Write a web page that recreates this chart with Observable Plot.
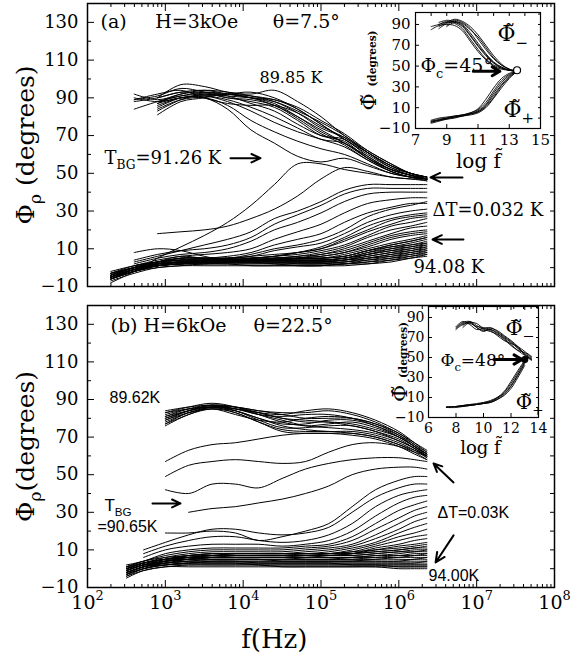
<!DOCTYPE html>
<html><head><meta charset="utf-8">
<script src="https://cdn.jsdelivr.net/npm/d3@7"></script>
<script src="https://cdn.jsdelivr.net/npm/@observablehq/plot@0.6"></script>
<style>
body{margin:0;background:#fff;}
#fig{position:relative;width:578px;height:655px;overflow:hidden;background:#fff;}
#fig svg{position:absolute;overflow:visible;}
</style></head><body><div id="fig"></div>
<script>
// ---------- tick labels ----------
const yTickValues = [-10, 10, 30, 50, 70, 90, 110, 130];
const xTickExponents = [2, 3, 4, 5, 6, 7, 8];
const insetYTicks = [-10, 10, 30, 50, 70, 90];
const insetATicksX = [7, 9, 11, 13, 15];
const insetBTicksX = [6, 8, 10, 12, 14];

// ---------- panel (a): log10 f grid and phase values (degrees) ----------
const logFreqA = [2.3, 2.6, 2.9, 3.2, 3.5, 3.8, 4.1, 4.4, 4.7, 5.0, 5.3, 5.6, 5.9, 6.15, 6.36];
const panelA_low = [ // low-T bundle (89.85 K ...)
  [null, 88, 90, 93, 92, 91, 90, 89, 84, 76, 68, 60, 53, 50, 48],
  [null, 92, 89, 92, 94, 93, 91, 88, 82, 74, 69, 61, 54, 50, 47],
  [null, 84, 88, 91, 93, 92, 90, 86, 80, 72, 66, 59, 52, 49, 47],
  [null, null, 83, 89, 92, 90, 88, 85, 78, 70, 67, 58, 52, 49, 47],
  [null, null, 86, 90, 91, 92, 93, 90, 84, 76, 68, 61, 54, 50, 48],
  [null, null, 81, 88, 90, 92, 90, 87, 80, 73, 66, 58, 52, 49, 47],
  [null, null, 90, 97, 96, 93, 92, 94, 88, 80, 70, 62, 55, 50, 48],
  [null, 89, 91, 95, 93, 90, 89, 86, 79, 71, 65, 57, 51, 48, 47],
  [null, null, 87, 92, 93, 91, 87, 83, 76, 70, 68, 59, 52, 49, 47],
  [null, null, 85, 90, 91, 89, 85, 80, 74, 68, 66, 58, 51, 48, 46],
  [null, null, 88, 91, 92, 92, 91, 89, 85, 78, 71, 62, 55, 50, 48],
  [null, 90, 88, 90, 91, 88, 83, 77, 72, 68, 64, 57, 51, 48, 47],
  [null, null, 84, 89, 90, 86, 78, 72, 67, 63, 60, 55, 50, 48, 47],
  [null, null, 87, 90, 90, 84, 73, 66, 59, 56, 58, 54, 50, 48, 47],
  [null, 89, 92, 94, 90, 87, 86, 86, 82, 75, 69, 61, 54, 50, 48],
  [null, null, 90, 93, 94, 92, 90, 88, 83, 77, 70, 61, 53, 49, 47]
];
const panelA_mid = [ // curves fanning out above T_BG
  [-8, -2, 5, 11, 17, 24, 33, 44, 55, 55, 52, 50, 48, 47, 47],
  [null, null, 18, 19, 20, 22, 26, 31, 38, 47, 53, 51, 48, 47, 46],
  [null, 3, 6, 9, 12, 15, 19, 26, 30, 35, 41, 44, 44, 44, 44],
  [null, 2, 5, 7, 8, 10, 14, 20, 24, 29, 35, 39, 40, 40, 40],
  [null, 1, 4, 6, 7, 8, 10, 15, 19, 23, 29, 34, 36, 37, 37],
  [null, 0, 3, 5, 5, 6, 8, 12, 15, 18, 24, 29, 32, 34, 34],
  [null, 0, 3, 4, 5, 5, 6, 9, 11, 13, 18, 24, 28, 30, 31],
  [-6, -1, 3, 6, 5, 5, 6, 7, 8, 10, 15, 20, 25, 27, 28],
  [-5, 0, 3, 5, 5, 4, 5, 6, 7, 9, 12, 17, 22, 24, 26],
  [-5, -1, 2, 4, 4, 4, 4, 5, 6, 8, 11, 16, 20, 22, 24],
  [-4, 0, 3, 4, 4, 4, 4, 5, 6, 7, 10, 14, 18, 21, 22],
  [-6, -2, 1, 3, 3, 3, 4, 4, 5, 7, 9, 13, 17, 19, 20],
  [-5, -1, 2, 3, 3, 3, 4, 4, 5, 6, 8, 12, 16, 18, 19],
  [-5, -2, 1, 2, 3, 3, 3, 4, 5, 6, 8, 11, 15, 17, 18],
  [null, 8, 10, 9, 6, 4, 5, 6, 8, 10, 14, 19, 23, 26, 27],
  [null, 4, 7, 9, 10, 12, 16, 23, 28, 33, 39, 42, 42, 42, 42],
  [null, 1, 3, 5, 5, 5, 7, 10, 12, 15, 20, 27, 31, 33, 35],
  [-6, -2, 2, 5, 5, 5, 5, 6, 8, 11, 16, 22, 26, 28, 29]
];
const panelA_high = [ // high-T bundle (... 94.08 K)
  [-7, -3, 0, 1, 1, 1, 1, 1, 1, 1, 1, 2, 3, 5, 6],
  [-6, -2, 0, 1, 2, 2, 1, 1, 1, 1, 2, 2, 4, 5, 7],
  [-6, -2, 1, 2, 2, 2, 2, 2, 1, 1, 2, 3, 4, 6, 7],
  [-5, -1, 1, 2, 2, 2, 2, 2, 2, 2, 2, 3, 5, 6, 8],
  [-5, -1, 1, 2, 3, 3, 3, 2, 2, 2, 2, 4, 5, 7, 8],
  [-4, -1, 2, 3, 3, 3, 3, 3, 2, 2, 3, 4, 6, 7, 9],
  [-4, 0, 2, 3, 3, 3, 3, 3, 3, 3, 3, 5, 6, 8, 9],
  [-3, 0, 2, 3, 3, 4, 4, 3, 3, 3, 3, 5, 7, 8, 10],
  [-5, -1, 1, 2, 3, 3, 3, 3, 3, 3, 4, 5, 7, 9, 10],
  [-6, -2, 1, 2, 2, 3, 3, 3, 3, 3, 4, 6, 8, 9, 11],
  [-4, 0, 2, 3, 3, 3, 4, 4, 3, 3, 4, 6, 8, 10, 11],
  [-3, 0, 2, 3, 4, 4, 4, 4, 4, 4, 4, 7, 9, 10, 12],
  [-5, -1, 1, 2, 3, 3, 4, 4, 4, 4, 5, 7, 9, 11, 12],
  [-4, 0, 2, 3, 3, 4, 4, 4, 4, 4, 5, 7, 10, 11, 13],
  [-3, 0, 2, 3, 4, 4, 4, 4, 4, 4, 5, 8, 10, 12, 13],
  [-5, -1, 1, 3, 3, 4, 4, 4, 4, 4, 5, 8, 11, 12, 14],
  [-4, 0, 2, 3, 4, 4, 4, 5, 5, 5, 6, 9, 11, 13, 15],
  [-3, 1, 3, 4, 4, 4, 5, 5, 5, 5, 6, 9, 12, 14, 16],
  [-2, 1, 3, 4, 4, 5, 5, 5, 5, 5, 6, 9, 12, 14, 16],
  [-6, -2, 1, 2, 3, 4, 4, 4, 5, 5, 7, 10, 13, 15, 17]
];

// ---------- panel (b) ----------
const logFreqB = [2.5, 2.72, 3.0, 3.3, 3.6, 3.9, 4.2, 4.5, 4.8, 5.1, 5.4, 5.7, 6.0, 6.2, 6.36];
const panelB_low = [ // 89.62 K ...
  [null, null, 77, 82, 86, 85, 82, 79, 76, 75, 74, 72, 68, 64, 60],
  [null, null, 79, 84, 87, 86, 83, 80, 78, 78, 77, 74, 70, 65, 61],
  [null, null, 81, 85, 87, 84, 80, 76, 74, 73, 73, 71, 67, 63, 59],
  [null, null, 83, 85, 86, 83, 78, 74, 73, 73, 72, 70, 66, 62, 58],
  [null, null, 84, 86, 87, 85, 82, 81, 82, 82, 80, 76, 71, 66, 62],
  [null, null, 78, 83, 86, 86, 84, 83, 83, 84, 82, 78, 72, 67, 63],
  [null, null, 76, 82, 85, 84, 80, 77, 77, 79, 79, 76, 70, 65, 61],
  [null, null, 80, 84, 86, 85, 83, 82, 84, 85, 83, 79, 73, 67, 62],
  [null, null, 82, 85, 86, 84, 79, 75, 75, 76, 76, 73, 69, 64, 60],
  [null, null, 80, 84, 87, 86, 84, 82, 80, 80, 80, 77, 72, 66, 61],
  [null, null, 77, 83, 85, 83, 78, 73, 72, 72, 71, 69, 65, 61, 58],
  [null, null, 83, 86, 88, 86, 82, 78, 76, 77, 78, 75, 70, 65, 60],
  [null, null, 79, 83, 85, 82, 79, 78, 80, 81, 80, 77, 71, 65, 61],
  [null, null, 81, 84, 86, 85, 83, 80, 79, 78, 76, 73, 68, 64, 59]
];
const panelB_mid = [
  [null, null, 57, 63, 66, 67, 69, 71, 72, 72, 72, 70, 66, 63, 60],
  [null, null, 49, 55, 57, 58, 57, 56, 57, 62, 66, 67, 65, 62, 60],
  [null, null, 42, 40, 45, 45, 43, 48, 53, 56, 58, 59, 59, 58, 57],
  [null, null, null, 30, 32, 33, 35, 37, 40, 44, 50, 53, 54, 54, 53],
  [null, null, 19, 19, 20, 19, 15, 17, 20, 24, 33, 42, 47, 49, 49],
  [null, 10, 14, 18, 21, 21, 19, 18, 19, 22, 30, 38, 43, 45, 45],
  [null, 8, 12, 15, 17, 17, 15, 14, 15, 18, 24, 33, 39, 41, 42],
  [null, 6, 10, 12, 13, 13, 13, 12, 13, 15, 20, 28, 35, 38, 39],
  [2, 4, 8, 10, 11, 11, 11, 11, 12, 13, 17, 24, 31, 34, 36],
  [1, 4, 7, 9, 10, 10, 10, 10, 11, 12, 15, 21, 27, 31, 33],
  [0, 3, 6, 8, 9, 9, 9, 9, 10, 11, 13, 18, 24, 28, 30],
  [0, 3, 5, 7, 8, 8, 8, 8, 9, 10, 12, 16, 21, 25, 27],
  [-1, 2, 5, 7, 7, 8, 8, 8, 8, 9, 11, 14, 19, 22, 24],
  [-1, 2, 4, 6, 7, 7, 7, 7, 8, 8, 10, 13, 17, 19, 21],
  [-2, 1, 4, 6, 6, 7, 7, 7, 7, 8, 9, 12, 15, 17, 18],
  [-2, 1, 4, 5, 6, 6, 6, 6, 7, 7, 8, 11, 13, 15, 16],
  [-3, 0, 3, 5, 6, 6, 6, 6, 6, 7, 8, 10, 12, 13, 14]
];
const panelB_high = [ // ... 94.00 K
  [-5, -1, 1, 1, 1, 1, 1, 1, 1, 1, 1, 1, 0, 0, 0],
  [-4, -1, 1, 2, 2, 2, 2, 1, 1, 1, 1, 1, 1, 1, 1],
  [-4, 0, 2, 2, 2, 2, 2, 2, 2, 2, 2, 2, 1, 1, 1],
  [-3, 0, 2, 3, 3, 3, 2, 2, 2, 2, 2, 2, 2, 2, 2],
  [-3, 0, 2, 3, 3, 3, 3, 3, 3, 3, 2, 2, 2, 2, 2],
  [-3, 1, 2, 3, 3, 3, 3, 3, 3, 3, 3, 3, 3, 3, 3],
  [-2, 1, 3, 3, 4, 4, 3, 3, 3, 3, 3, 3, 3, 3, 4],
  [-2, 1, 3, 4, 4, 4, 4, 4, 4, 4, 4, 4, 4, 4, 4],
  [-2, 1, 3, 4, 4, 4, 4, 4, 4, 4, 4, 4, 4, 5, 5],
  [-1, 2, 3, 4, 5, 5, 5, 4, 4, 4, 4, 5, 5, 5, 6],
  [-1, 2, 4, 5, 5, 5, 5, 5, 5, 5, 5, 5, 6, 6, 6],
  [-1, 2, 4, 5, 5, 5, 5, 5, 5, 5, 5, 6, 6, 7, 7],
  [-1, 2, 4, 5, 6, 6, 6, 6, 5, 5, 6, 6, 7, 7, 8],
  [0, 2, 4, 5, 6, 6, 6, 6, 6, 6, 6, 7, 7, 8, 8],
  [0, 3, 5, 6, 6, 6, 6, 6, 6, 6, 6, 7, 8, 9, 9],
  [0, 3, 5, 6, 7, 7, 7, 7, 7, 7, 7, 8, 9, 9, 10],
  [0, 3, 5, 6, 7, 7, 7, 7, 7, 7, 7, 8, 9, 10, 10],
  [1, 3, 5, 6, 7, 8, 8, 8, 8, 8, 8, 9, 10, 11, 11],
  [1, 3, 5, 7, 8, 8, 8, 8, 8, 8, 8, 9, 10, 11, 12],
  [1, 4, 6, 7, 8, 8, 8, 8, 8, 8, 9, 10, 11, 12, 13]
];

// ---------- insets: scaled log f~ grid and phases ----------
const insetA_logf = [8.0, 8.5, 9.0, 9.5, 10.0, 10.5, 11.0, 11.5, 12.0, 12.5, 13.0, 13.5];
const insetA_minus = [
  [88, 90, 92, 91, 86, 76, 66, 57, 51, 48, 46, 45],
  [null, 86, 91, 93, 90, 82, 72, 62, 54, 49, 46, 45],
  [null, 90, 93, 92, 88, 79, 69, 60, 53, 49, 46, 45],
  [null, null, 89, 94, 92, 86, 76, 66, 57, 51, 47, 45],
  [85, 89, 90, 89, 84, 74, 64, 56, 50, 47, 46, 45],
  [null, 92, 94, 93, 91, 85, 78, 68, 58, 51, 47, 45],
  [null, null, 88, 92, 89, 80, 70, 61, 53, 48, 46, 45],
  [null, 88, 92, 95, 93, 88, 80, 70, 60, 52, 47, 45]
];
const insetA_plus = [
  [-4, -2, -1, 0, 2, 4, 6, 12, 22, 32, 40, 45],
  [-3, -1, 0, 1, 3, 5, 8, 15, 26, 36, 42, 45],
  [-5, -3, -1, 1, 2, 3, 5, 10, 19, 29, 38, 45],
  [-2, 0, 1, 2, 3, 5, 9, 18, 29, 38, 43, 45],
  [-4, -2, 0, 1, 2, 4, 7, 13, 24, 34, 41, 45],
  [-3, -2, 0, 2, 3, 4, 6, 11, 20, 31, 39, 45]
];
const insetB_logf = [7.3, 8.0, 8.5, 9.0, 9.5, 10.0, 10.5, 11.0, 11.5, 12.0, 12.5, 13.0, 13.5];
const insetB_minus = [
  [null, 79, 84, 85, 80, 77, 78, 75, 70, 65, 59, 54, 49],
  [null, 81, 86, 83, 78, 79, 80, 76, 71, 66, 60, 53, 48],
  [null, null, 82, 86, 82, 78, 76, 73, 69, 63, 57, 52, 47],
  [null, 78, 83, 84, 81, 80, 78, 74, 68, 62, 57, 55, 50],
  [null, null, 80, 85, 84, 79, 77, 72, 67, 64, 61, 56, 51],
  [null, 80, 85, 86, 80, 76, 79, 77, 72, 67, 61, 53, 48]
];
const insetB_plus = [
  [0, 1, 1, 2, 3, 4, 5, 8, 13, 21, 32, 44, null],
  [0, 1, 2, 2, 3, 4, 6, 9, 15, 24, 35, 46, null],
  [1, 1, 2, 3, 3, 5, 6, 10, 16, 26, 37, 47, null],
  [0, 0, 1, 2, 3, 4, 5, 8, 12, 19, 30, 42, null],
  [null, 1, 2, 3, 4, 5, 7, 10, 14, 22, 33, 45, null]
];

// ---------- annotations (log10 f, degrees) ----------
const titleA = [{lf: 2.167, d: 127, t: "(a)"}, {lf: 2.87, d: 127, t: "H=3kOe"}, {lf: 4.38, d: 127, t: "θ=7.5°"}];
const notesA = [
  {lf: 4.21, d: 98, t: "89.85 K", s: 16},
  {lf: 2.218, d: 55, t: "T_{BG}=91.26 K", s: 18},
  {lf: 6.433, d: 27.6, t: "ΔT=0.032 K", s: 18},
  {lf: 6.19, d: -2.6, t: "94.08 K", s: 18}
];
const arrowsA = [
  {lf1: 3.837, d1: 58, lf2: 4.223, d2: 58},
  {lf1: 6.818, d1: 47.8, lf2: 6.407, d2: 47.8},
  {lf1: 6.83, d1: 14.9, lf2: 6.433, d2: 14.9}
];
const titleB = [{lf: 2.296, d: 126, t: "(b)"}, {lf: 2.72, d: 126, t: "H=6kOe"}, {lf: 4.133, d: 126, t: "θ=22.5°"}];
const notesB = [
  {lf: 2.283, d: 87.9, t: "89.62K", s: 16},
  {lf: 2.218, d: 30.5, t: "T_{BG}", s: 17},
  {lf: 2.128, d: 19.3, t: "=90.65K", s: 16},
  {lf: 6.497, d: 27.2, t: "ΔT=0.03K", s: 16},
  {lf: 6.381, d: -6.3, t: "94.00K", s: 16}
];
const arrowsB = [
  {lf1: 2.835, d1: 34.7, lf2: 3.195, d2: 34.7},
  {lf1: 6.703, d1: 45.9, lf2: 6.446, d2: 56},
  {lf1: 6.703, d1: 17.7, lf2: 6.472, d2: 3.3}
];
const insetA_notes = [
  {x: 12.25, d: 74, t: "Φ\u0303_{−}", s: 22},
  {x: 12.63, d: 1.2, t: "Φ\u0303_{+}", s: 22},
  {x: 7.32, d: 44, t: "Φ_{c}=45°", s: 19}
];
const insetA_arrow = [{x1: 10.7, x2: 12.4, d: 45}];
const insetB_notes = [
  {x: 11.6, d: 73, t: "Φ\u0303_{−}", s: 21},
  {x: 12.35, d: -1, t: "Φ\u0303_{+}", s: 20},
  {x: 6.87, d: 42, t: "Φ_{c}=48°", s: 17}
];
const insetB_arrow = [{x1: 10.8, x2: 12.8, d: 48}];

// ---------- helpers ----------
const fmtDeg = d => d < 0 ? "\u2212" + Math.abs(d) : String(d);
const blank = () => "";
function toRows(grid, curves, key, conv) {
  const rows = [];
  curves.forEach((c, j) => c.forEach((v, i) => { if (v != null) rows.push({x: conv(grid[i]), v, id: key + j}); }));
  return rows;
}
const pow10 = l => 10 ** l;
const ident = l => l;

function mainPanel(o) {
  const decades = xTickExponents.map(pow10);
  const minor = [];
  for (let e = 2; e < 8; e++) for (let m = 2; m < 10; m++) minor.push(m * 10 ** e);
  const yMinor = d3.range(0, 140, 20);
  const yAll = d3.range(-10, 141, 10);
  const marks = [
    Plot.line(o.rows, {x: "x", y: "v", z: "id", curve: "catmull-rom", stroke: "black", strokeWidth: 1}),
    Plot.frame({stroke: "black", strokeWidth: 1.5}),
    Plot.axisY(yTickValues, {anchor: "left", tickSize: -7, tickPadding: 16, tickFormat: fmtDeg, fontSize: 18, label: null}),
    Plot.axisY(yMinor, {anchor: "left", tickSize: -4, tickFormat: blank, label: null}),
    Plot.axisY(yAll, {anchor: "right", tickSize: -5, tickFormat: blank, label: null}),
    Plot.axisX(decades, {anchor: "bottom", tickSize: -7, tickPadding: 15, fontSize: 19, label: null,
      tickFormat: o.xLabels ? (d => "10^{" + Math.round(Math.log10(d)) + "}") : blank}),
    Plot.axisX(minor, {anchor: "bottom", tickSize: -3, tickFormat: blank, label: null}),
    Plot.axisX(decades, {anchor: "top", tickSize: -7, tickFormat: blank, label: null}),
    Plot.axisX(minor, {anchor: "top", tickSize: -3, tickFormat: blank, label: null}),
    Plot.text(o.title, {x: d => pow10(d.lf), y: "d", text: "t", textAnchor: "start", lineAnchor: "bottom", fontSize: 19, fontFamily: "DejaVu Serif"}),
    Plot.text(o.notes, {x: d => pow10(d.lf), y: "d", text: "t", textAnchor: "start", lineAnchor: "bottom", fontSize: "s", fontFamily: o.noteFont}),
    Plot.arrow(o.arrows, {x1: d => pow10(d.lf1), y1: "d1", x2: d => pow10(d.lf2), y2: "d2", stroke: "black", strokeWidth: 2, headLength: 8, headAngle: 50}),
    Plot.text([o.yLabel], {text: d => d, frameAnchor: "left", dx: -62, rotate: -90, textAnchor: "middle", lineAnchor: "middle", fontSize: 25, fontFamily: "DejaVu Serif"})
  ];
  if (o.xLabels) marks.push(Plot.text(["f(Hz)"], {text: d => d, x: pow10(4.4), frameAnchor: "bottom", dy: 60, textAnchor: "middle", lineAnchor: "bottom", fontSize: 26, fontFamily: "DejaVu Serif"}));
  return Plot.plot({
    width: 578, height: o.height, marginLeft: 87, marginRight: 24, marginTop: o.mt, marginBottom: o.mb,
    x: {type: "log", domain: [1e2, 1e8], label: null},
    y: {domain: [-10, 140], label: null},
    style: {fontFamily: "DejaVu Serif", color: "black", background: "none", overflow: "visible"},
    marks
  });
}

function insetPanel(o) {
  const yAll = d3.range(-10, o.yDomain[1], 10);
  const xAll = d3.range(o.xDomain[0], o.xDomain[1] + 0.01, 1);
  return Plot.plot({
    width: o.w, height: o.h, marginLeft: o.ml, marginRight: o.mr, marginTop: o.mt, marginBottom: o.mb,
    x: {domain: o.xDomain, label: null}, y: {domain: o.yDomain, label: null},
    style: {fontFamily: "DejaVu Serif", color: "black", background: "none", overflow: "visible"},
    marks: [
      Plot.line(o.rows, {x: "x", y: "v", z: "id", curve: "catmull-rom", stroke: "black", strokeWidth: 0.9}),
      Plot.frame({stroke: "black", strokeWidth: 1.2}),
      Plot.axisY(insetYTicks, {anchor: "left", tickSize: -4, tickPadding: o.yPad, tickFormat: fmtDeg, fontSize: o.tf, label: null}),
      Plot.axisY(yAll, {anchor: "right", tickSize: -3, tickFormat: blank, label: null}),
      Plot.axisX(o.xTicks, {anchor: "bottom", tickSize: -4, tickPadding: o.xPad, fontSize: o.tf, label: null}),
      Plot.axisX(xAll, {anchor: "top", tickSize: -3, tickFormat: blank, label: null}),
      Plot.text(o.notes, {x: "x", y: "d", text: "t", textAnchor: "start", lineAnchor: "bottom", fontSize: "s", fontFamily: "DejaVu Serif"}),
      Plot.arrow(o.arrow, {x1: "x1", y1: "d", x2: "x2", y2: "d", stroke: "black", strokeWidth: 3, headLength: 7, headAngle: 60}),
      Plot.dot(o.dot, {x: "x", y: "d", r: o.dotR, stroke: "black", fill: o.dotFill, strokeWidth: 1.2}),
      Plot.text(["Φ\u0303 #{(degrees)}"], {text: d => d, frameAnchor: "left", dx: o.ylDx, rotate: -90, textAnchor: "middle", lineAnchor: "middle", fontSize: 21, fontFamily: "DejaVu Serif"}),
      Plot.text(["log f\u0303"], {text: d => d, x: o.logX, frameAnchor: "bottom", dy: o.logDy, textAnchor: "middle", lineAnchor: "bottom", fontSize: o.lf, fontFamily: "DejaVu Serif"})
    ]
  });
}

function richify(root) {
  root.querySelectorAll("text").forEach(t => {
    const s = t.textContent;
    if (!/[_^#]\{/.test(s)) return;
    const fs = parseFloat(getComputedStyle(t).fontSize) || 16;
    const parts = []; const re = /([_^#])\{([^}]*)\}/g; let last = 0, m;
    while ((m = re.exec(s))) {
      if (m.index > last) parts.push({k: "n", s: s.slice(last, m.index)});
      parts.push({k: m[1], s: m[2]}); last = re.lastIndex;
    }
    if (last < s.length) parts.push({k: "n", s: s.slice(last)});
    while (t.firstChild) t.removeChild(t.firstChild);
    let shift = 0;
    for (const p of parts) {
      const ts = document.createElementNS("http://www.w3.org/2000/svg", "tspan");
      const target = p.k === "_" ? 0.3 * fs : p.k === "^" ? -0.45 * fs : 0;
      ts.setAttribute("dy", target - shift); shift = target;
      if (p.k !== "n") ts.setAttribute("font-size", (p.k === "#" ? 0.5 : 0.68) * fs);
      if (p.k === "#") ts.setAttribute("font-weight", "bold");
      ts.textContent = p.s;
      t.appendChild(ts);
    }
  });
}

// ---------- build ----------
const fig = document.getElementById("fig");
function place(svg, left, top) { svg.style.left = left + "px"; svg.style.top = top + "px"; fig.appendChild(svg); richify(svg); }

const rowsA = [...toRows(logFreqA, panelA_low, "l", pow10), ...toRows(logFreqA, panelA_mid, "m", pow10), ...toRows(logFreqA, panelA_high, "h", pow10)];
const rowsB = [...toRows(logFreqB, panelB_low, "l", pow10), ...toRows(logFreqB, panelB_mid, "m", pow10), ...toRows(logFreqB, panelB_high, "h", pow10)];

place(mainPanel({rows: rowsA, height: 300, mt: 3, mb: 14, title: titleA, notes: notesA, arrows: arrowsA,
  noteFont: "DejaVu Serif", yLabel: "Φ_{ρ} (degrees)", xLabels: false}), 0, 0);
place(mainPanel({rows: rowsB, height: 355, mt: 5, mb: 68, title: titleB, notes: notesB, arrows: arrowsB,
  noteFont: "Liberation Sans", yLabel: "Φ_{ρ}(degrees)", xLabels: true}), 0, 300);

const rowsIA = [...toRows(insetA_logf, insetA_minus, "m", ident), ...toRows(insetA_logf, insetA_plus, "p", ident)];
const rowsIB = [...toRows(insetB_logf, insetB_minus, "m", ident), ...toRows(insetB_logf, insetB_plus, "p", ident)];

place(insetPanel({rows: rowsIA, w: 200, h: 175, ml: 65, mr: 10, mt: 10, mb: 49, xDomain: [7, 15], yDomain: [-10, 101.5],
  xTicks: insetATicksX, yPad: 9, xPad: 10, tf: 15, lf: 20, notes: insetA_notes, arrow: insetA_arrow, dot: [{x: 13.5, d: 46}], dotR: 3.5, dotFill: "white",
  ylDx: -46, logX: 11.03, logDy: 39}), 350, 2);
place(insetPanel({rows: rowsIB, w: 180, h: 160, ml: 58, mr: 12, mt: 6, mb: 43, xDomain: [6, 14], yDomain: [-10, 101],
  xTicks: insetBTicksX, yPad: 8, xPad: 10, tf: 14, lf: 18, notes: insetB_notes, arrow: insetB_arrow, dot: [{x: 13.0, d: 48}], dotR: 3, dotFill: "black",
  ylDx: -28, logX: 9.78, logDy: 36}), 370, 300);
</script></body></html>
